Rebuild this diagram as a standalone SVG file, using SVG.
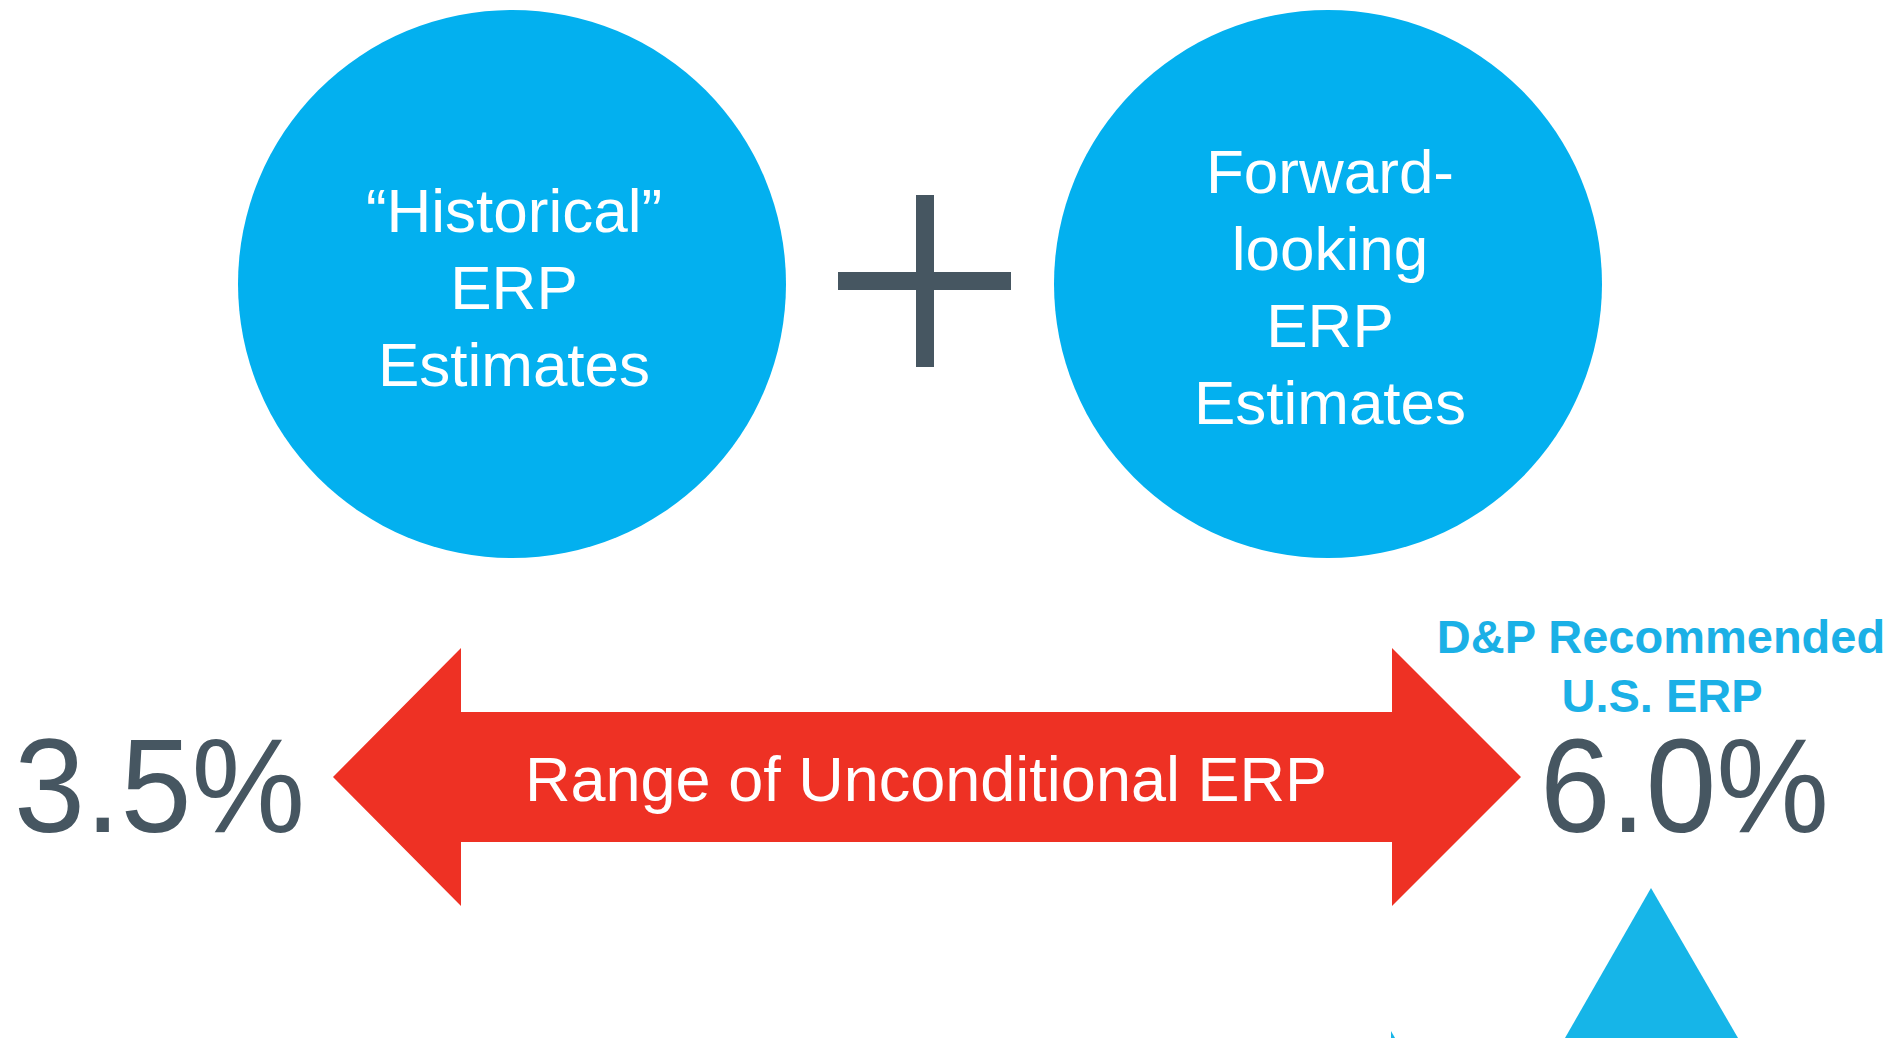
<svg xmlns="http://www.w3.org/2000/svg" width="1897" height="1038" viewBox="0 0 1897 1038">
<style>
.circ{fill:#03B0EF}
.ct{font-family:"Liberation Sans",Arial,sans-serif;font-size:62px;fill:#FFFFFF;text-anchor:middle}
.pct{font-family:"Liberation Sans",Arial,sans-serif;font-size:134px;fill:#465661}
.dp{font-family:"Liberation Sans",Arial,sans-serif;font-weight:bold;font-size:47px;fill:#1BB0E6;text-anchor:middle}
.dark{fill:#465661}
</style>
<rect width="1897" height="1038" fill="#FFFFFF"/>
<g id="historical">
<circle class="circ" cx="512" cy="284" r="274"/>
<text class="ct" x="514" y="232">“Historical”</text>
<text class="ct" x="514" y="309">ERP</text>
<text class="ct" x="514" y="386">Estimates</text>
</g>
<g id="plus">
<rect class="dark" x="916" y="195" width="18" height="172"/>
<rect class="dark" x="838" y="272" width="173" height="18"/>
</g>
<g id="forward">
<circle class="circ" cx="1328" cy="284" r="274"/>
<text class="ct" x="1330" y="193">Forward-</text>
<text class="ct" x="1330" y="270">looking</text>
<text class="ct" x="1330" y="347">ERP</text>
<text class="ct" x="1330" y="424">Estimates</text>
</g>
<g id="range-arrow">
<polygon fill="#EE3124" points="333,777 461,648 461,712 1392,712 1392,648 1521,777 1392,906 1392,842 461,842 461,906"/>
<text x="926" y="801" font-family="Liberation Sans, Arial, sans-serif" font-size="63" fill="#FFFFFF" text-anchor="middle">Range of Unconditional ERP</text>
</g>
<g id="low">
<text class="pct" x="14" y="832" textLength="291" lengthAdjust="spacingAndGlyphs">3.5%</text>
</g>
<g id="high">
<text class="dp" x="1661" y="653">D&amp;P Recommended</text>
<text class="dp" x="1662" y="712">U.S. ERP</text>
<text class="pct" x="1540" y="832" textLength="289" lengthAdjust="spacingAndGlyphs">6.0%</text>
</g>
<g id="marker">
<polygon fill="#16B5E8" points="1651,888 1565,1038 1738,1038"/>
<polygon fill="#16B5E8" points="1391,1031 1391,1038 1395,1038"/>
</g>
<g id="connectors"></g>
</svg>
